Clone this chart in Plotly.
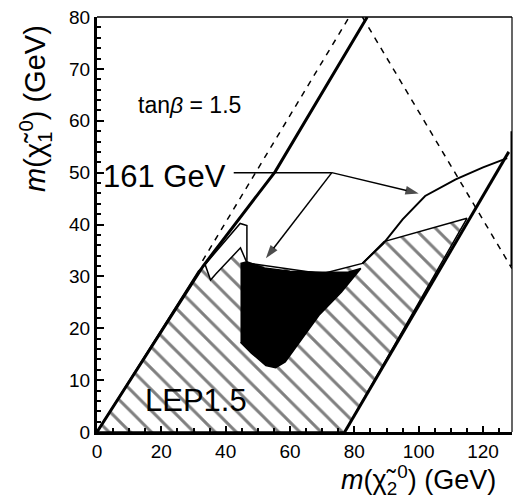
import plotly.graph_objects as go

# ---- data ----
# LEP1.5 excluded (hatched) region
lep_x = [0, 77, 115, 97, 89.2, 82.5, 70, 46.6, 44.6, 37, 35.3, 33.6, 31.5, 0]
lep_y = [0, 0, 41.2, 38.1, 36.7, 32.5, 30.5, 32.6, 35.5, 30.5, 29.3, 32.3, 31, 0]

# 161 GeV excluded region (black)
blk_x = [44.6, 46.6, 52, 60, 70, 78, 82, 76, 69, 62.5, 58.5, 55.5, 52.5, 48, 44.6]
blk_y = [32.5, 32.8, 31.6, 31.0, 30.8, 30.8, 31.5, 27, 22.5, 17, 13.5, 12.4, 12.8, 15.2, 17.3]

# thick solid boundary (left)
left_x = [0, 33, 55.4, 84]
left_y = [0, 32, 50.2, 80]

# thick solid boundary (right)
right_x = [77, 128]
right_y = [0, 54]

# upper contour
up_x = [82.5, 89, 95, 102, 111.5, 120, 127.5]
up_y = [32.5, 36.3, 41, 45.5, 48.7, 51, 52.8]

# spike outline
spk_x = [33.6, 44.5, 46.6, 46.6]
spk_y = [32.3, 40.2, 39.8, 32.6]

# dashed: m1 = m2 line and m1 + m2 = 161 line
dash1_x = [32.8, 78.4]
dash1_y = [33, 80]
dash2_x = [82.5, 129]
dash2_y = [80, 31.5]

# right edge thick segment
edge_x = [129, 129]
edge_y = [32, 58]

# 161 GeV label line and arrows
lab_line_x = [42.5, 73]
lab_line_y = [50, 50]
arrow1_x = [73, 100]
arrow1_y = [50, 46]
arrow2_x = [73, 52.5]
arrow2_y = [50, 33.5]

FONT = "Liberation Sans, Arial, sans-serif"

fig = go.Figure()

fig.add_trace(go.Scatter(
    x=lep_x, y=lep_y, mode="lines", fill="toself",
    line=dict(color="black", width=1.5),
    fillcolor="white",
    fillpattern=dict(shape="\\", size=15, solidity=0.2, fgcolor="black", bgcolor="white"),
    hoverinfo="skip", showlegend=False))

fig.add_trace(go.Scatter(
    x=blk_x, y=blk_y, mode="lines", fill="toself",
    line=dict(color="black", width=1.5), fillcolor="black",
    hoverinfo="skip", showlegend=False))

for xs, ys, w, d in [
    (left_x, left_y, 3, "solid"),
    (right_x, right_y, 3, "solid"),
    (up_x, up_y, 2, "solid"),
    (spk_x, spk_y, 1.5, "solid"),
    (dash1_x, dash1_y, 1.5, "6px,6px"),
    (dash2_x, dash2_y, 1.5, "6px,6px"),
    (edge_x, edge_y, 3, "solid"),
    (lab_line_x, lab_line_y, 1.5, "solid"),
]:
    fig.add_trace(go.Scatter(x=xs, y=ys, mode="lines",
                             line=dict(color="black", width=w, dash=d),
                             hoverinfo="skip", showlegend=False, cliponaxis=False))

for xs, ys in [(arrow1_x, arrow1_y), (arrow2_x, arrow2_y)]:
    fig.add_trace(go.Scatter(x=xs, y=ys, mode="lines+markers",
                             line=dict(color="black", width=1.5),
                             marker=dict(symbol="arrow", angleref="previous",
                                         size=[0, 14], color="black",
                                         line=dict(width=0)),
                             hoverinfo="skip", showlegend=False))

fig.add_annotation(x=1.3, y=49.3, xref="x", yref="y", text="161 GeV",
                   showarrow=False, xanchor="left", yanchor="middle",
                   font=dict(family=FONT, size=31, color="black"))
fig.add_annotation(x=30.7, y=6, xref="x", yref="y", text="LEP1.5",
                   showarrow=False, xanchor="center", yanchor="middle",
                   font=dict(family=FONT, size=31, color="black"))
fig.add_annotation(x=28.6, y=63, xref="x", yref="y", text="tan<i>β</i> = 1.5",
                   showarrow=False, xanchor="center", yanchor="middle",
                   font=dict(family=FONT, size=23, color="black"))

# axis titles
fig.add_annotation(x=-0.148, y=0.78, xref="paper", yref="paper",
                   text="<i>m</i>(χ̃<sub>1</sub><sup>0</sup>) (GeV)", textangle=-90,
                   showarrow=False, xanchor="center", yanchor="middle",
                   font=dict(family=FONT, size=29, color="black"))
fig.add_annotation(x=0.775, y=-0.115, xref="paper", yref="paper",
                   text="<i>m</i>(χ̃<sub>2</sub><sup>0</sup>) (GeV)",
                   showarrow=False, xanchor="center", yanchor="middle",
                   font=dict(family=FONT, size=27, color="black"))

# thin top/right frame
fig.add_shape(type="line", xref="paper", yref="paper", x0=0, x1=1, y0=1, y1=1,
              line=dict(color="black", width=1.5))
fig.add_shape(type="line", xref="paper", yref="paper", x0=1, x1=1, y0=0, y1=1,
              line=dict(color="black", width=1.2))

fig.update_xaxes(range=[0, 129], showgrid=False, zeroline=False,
                 showline=True, linecolor="black", linewidth=3,
                 ticks="inside", ticklen=6, tickwidth=1.5, tickcolor="black",
                 tick0=0, dtick=20,
                 minor=dict(ticks="inside", ticklen=4, tickwidth=1.5, dtick=5, tickcolor="black"),
                 tickfont=dict(family=FONT, size=19, color="black"))
fig.update_yaxes(range=[0, 80], showgrid=False, zeroline=False,
                 showline=True, linecolor="black", linewidth=3,
                 ticks="inside", ticklen=7, tickwidth=1.5, tickcolor="black",
                 tick0=0, dtick=10,
                 minor=dict(ticks="inside", ticklen=4, tickwidth=1.5, dtick=2, tickcolor="black"),
                 tickfont=dict(family=FONT, size=19, color="black"))

fig.update_layout(width=515, height=503,
                  margin=dict(l=97, r=3, t=17, b=71),
                  paper_bgcolor="white", plot_bgcolor="white",
                  showlegend=False)

fig.write_html("out.html")
